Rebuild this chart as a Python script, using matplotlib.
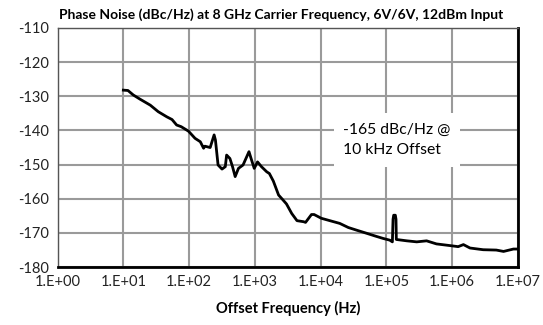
import matplotlib
matplotlib.use("Agg")
import matplotlib.pyplot as plt
from matplotlib.ticker import FixedLocator, NullLocator

plt.rcParams['font.family'] = ['Lato', 'DejaVu Sans']
plt.rcParams['axes.unicode_minus'] = False

# log10 of offset frequency (Hz) and measured phase noise (dBc/Hz)
log_freq = [1.00, 1.07, 1.15, 1.25, 1.41, 1.53, 1.66, 1.74, 1.81, 1.88, 1.99,
            2.09, 2.17, 2.22, 2.24, 2.32, 2.38, 2.40, 2.44, 2.50, 2.55, 2.57,
            2.62, 2.66, 2.70, 2.75, 2.82, 2.91, 2.95, 2.99, 3.04, 3.10, 3.18,
            3.22, 3.28, 3.36, 3.43, 3.48, 3.56, 3.64, 3.74, 3.77, 3.86, 3.90,
            4.01, 4.14, 4.29, 4.42, 4.55, 4.70, 4.83, 4.95, 5.05, 5.09, 5.10,
            5.11, 5.135, 5.145, 5.15, 5.31, 5.46, 5.61, 5.76, 5.97, 6.09, 6.17,
            6.27, 6.47, 6.67, 6.78, 6.93, 7.00]
phase_noise = [-128.2, -128.3, -129.6, -130.8, -132.6, -134.5, -136.0, -136.8,
               -138.4, -138.9, -140.2, -142.3, -143.3, -145.2, -144.6, -145.0,
               -141.3, -142.8, -150.1, -151.3, -150.6, -147.2, -148.2, -150.6,
               -153.5, -151.1, -150.1, -146.2, -148.7, -151.1, -149.2, -150.6,
               -152.1, -152.6, -154.8, -158.9, -160.4, -161.5, -164.3, -166.4,
               -166.7, -166.9, -164.6, -164.6, -165.7, -166.4, -167.2, -168.4,
               -169.2, -170.1, -170.9, -171.6, -172.1, -172.6, -166.0, -164.8,
               -164.8, -166.0, -171.9, -172.3, -172.6, -172.3, -173.2, -173.7,
               -174.0, -173.4, -174.4, -174.9, -175.0, -175.4, -174.7, -174.7]

freq = [10 ** v for v in log_freq]

x_ticks = [1e0, 1e1, 1e2, 1e3, 1e4, 1e5, 1e6, 1e7]
x_labels = ['1.E+00', '1.E+01', '1.E+02', '1.E+03', '1.E+04', '1.E+05', '1.E+06', '1.E+07']
y_ticks = [-110, -120, -130, -140, -150, -160, -170, -180]

fig = plt.figure(figsize=(5.43, 3.25), dpi=100)
ax = fig.add_axes([0.106, 0.178, 0.848, 0.736])

ax.plot(freq, phase_noise, color='black', linewidth=2.0, zorder=3)

ax.set_xscale('log')
ax.set_xlim(1e0, 1e7)
ax.set_ylim(-180, -110)
ax.xaxis.set_major_locator(FixedLocator(x_ticks))
ax.xaxis.set_minor_locator(NullLocator())
ax.set_xticklabels(x_labels)
ax.set_yticks(y_ticks)
ax.tick_params(length=0, labelsize=10.5, colors='#222222', pad=6)
ax.grid(True, color='#9a9a9a', linewidth=1.5)
ax.set_axisbelow(True)

for side in ('left', 'top'):
    ax.spines[side].set_color('#555555')
    ax.spines[side].set_linewidth(1.0)
for side in ('right', 'bottom'):
    ax.spines[side].set_color('black')
    ax.spines[side].set_linewidth(2.0)

ax.set_xlabel('Offset Frequency (Hz)', fontsize=10.5, fontweight='bold', labelpad=8)
fig.text(0.518, 0.955, 'Phase Noise (dBc/Hz) at 8 GHz Carrier Frequency, 6V/6V, 12dBm Input',
         ha='center', va='center', fontsize=10, fontweight='bold')

# white label box over the grid
ax.text(2.2e4, -142.8, '-165 dBc/Hz @\n10 kHz Offset', fontsize=11.3, ha='left', va='center',
        linespacing=1.6, zorder=4,
        bbox=dict(boxstyle='square,pad=0.6', facecolor='white', edgecolor='none'))

fig.savefig('out.png', dpi=100)
